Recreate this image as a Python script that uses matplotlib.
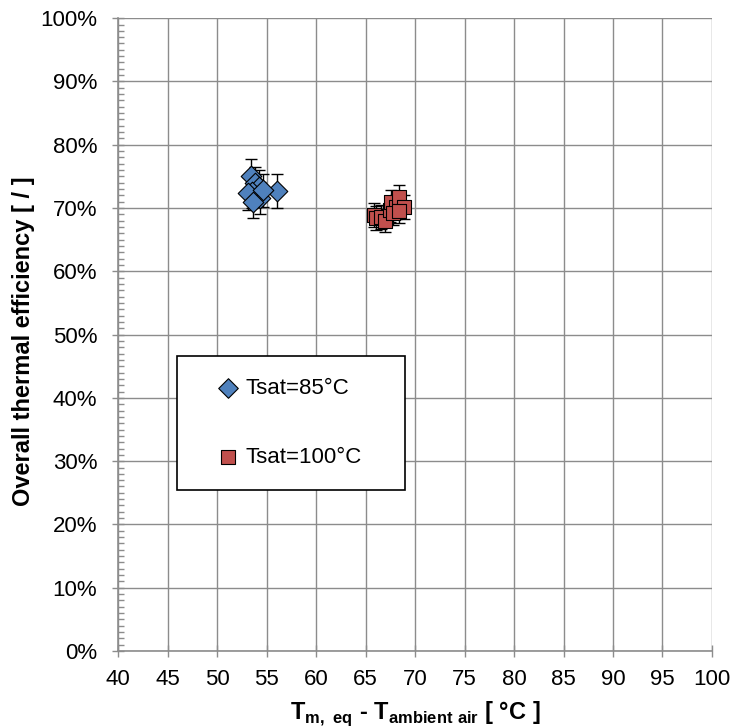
import matplotlib
matplotlib.use("Agg")
import matplotlib.pyplot as plt
from matplotlib.ticker import MultipleLocator, FuncFormatter

plt.rcParams['font.family'] = ['Liberation Sans', 'DejaVu Sans']
plt.rcParams['mathtext.fontset'] = 'custom'
plt.rcParams['mathtext.rm'] = 'Liberation Sans'
plt.rcParams['mathtext.bf'] = 'Liberation Sans:bold'

# Tsat = 85 °C measurements
dt_85 = [53.4, 53.8, 54.2, 53.5, 54.3, 53.1, 53.6, 56.0, 54.6]
eff_85 = [75.0, 73.9, 73.4, 72.6, 71.6, 72.3, 70.9, 72.7, 72.8]
err_85 = [2.8, 2.6, 2.6, 2.6, 2.5, 2.6, 2.4, 2.7, 2.6]

# Tsat = 100 °C measurements
dt_100 = [65.8, 66.1, 66.6, 67.0, 67.5, 67.6, 68.1, 68.4, 68.9, 67.8, 68.4]
eff_100 = [68.9, 68.4, 68.6, 68.0, 69.7, 71.0, 70.2, 71.8, 70.2, 69.2, 69.5]
err_100 = [1.9, 1.9, 1.9, 1.8, 1.9, 1.9, 1.9, 1.9, 1.9, 1.9, 1.9]

fig = plt.figure(figsize=(7.34, 7.27), dpi=100)
ax = fig.add_axes([0.161, 0.1045, 0.809, 0.8705])

grey = '#8c8c8c'
ax.set_xlim(40, 100)
ax.set_ylim(0, 100)
ax.xaxis.set_major_locator(MultipleLocator(5))
ax.yaxis.set_major_locator(MultipleLocator(10))
ax.yaxis.set_minor_locator(MultipleLocator(1))
ax.yaxis.set_major_formatter(FuncFormatter(lambda v, p: f"{v:.0f}%"))
ax.grid(True, which='major', color=grey, linewidth=1.0)
ax.set_axisbelow(True)
for s in ['top', 'right']:
    ax.spines[s].set_visible(False)
for s in ['left', 'bottom']:
    ax.spines[s].set_color(grey)
    ax.spines[s].set_linewidth(1.2)
ax.tick_params(axis='both', which='major', direction='inout', length=8,
               color=grey, labelsize=16, width=1)
ax.tick_params(axis='y', which='major', pad=11)
ax.tick_params(axis='x', which='major', pad=9)
ax.tick_params(axis='y', which='minor', direction='in', length=4,
               color=grey, width=1)

ax.errorbar(dt_85, eff_85, yerr=err_85, fmt='none', ecolor='black',
            elinewidth=1, capsize=4, capthick=1, zorder=2)
ax.scatter(dt_85, eff_85, marker='D', s=110, facecolor='#4f81bd',
           edgecolor='black', linewidth=0.8, zorder=3, label='Tsat=85°C')

ax.errorbar(dt_100, eff_100, yerr=err_100, fmt='none', ecolor='black',
            elinewidth=1, capsize=4, capthick=1, zorder=2)
ax.scatter(dt_100, eff_100, marker='s', s=110, facecolor='#c0504d',
           edgecolor='black', linewidth=0.8, zorder=3, label='Tsat=100°C')

leg = ax.legend(loc='upper left', bbox_to_anchor=(0.0988, 0.2543, 0.3843, 0.2122),
                mode='expand', fontsize=16, frameon=True, fancybox=False,
                framealpha=1, edgecolor='black', borderpad=1.0,
                labelspacing=2.14, handletextpad=-0.5, borderaxespad=0,
                markerscale=0.95, handlelength=2.6)
leg.get_frame().set_linewidth(1.2)

ax.set_ylabel('Overall thermal efficiency [ / ]', fontsize=17,
              fontweight='bold')
ax.yaxis.set_label_coords(-0.1397, 0.49)
ax.set_xlabel(r'T$_{\mathbf{m,\ eq}}$ - T$_{\mathbf{ambient\ air}}$ [ °C ]',
              fontsize=17, fontweight='bold')
ax.xaxis.set_label_coords(0.501, -0.076)

fig.savefig('out.png', dpi=100)
